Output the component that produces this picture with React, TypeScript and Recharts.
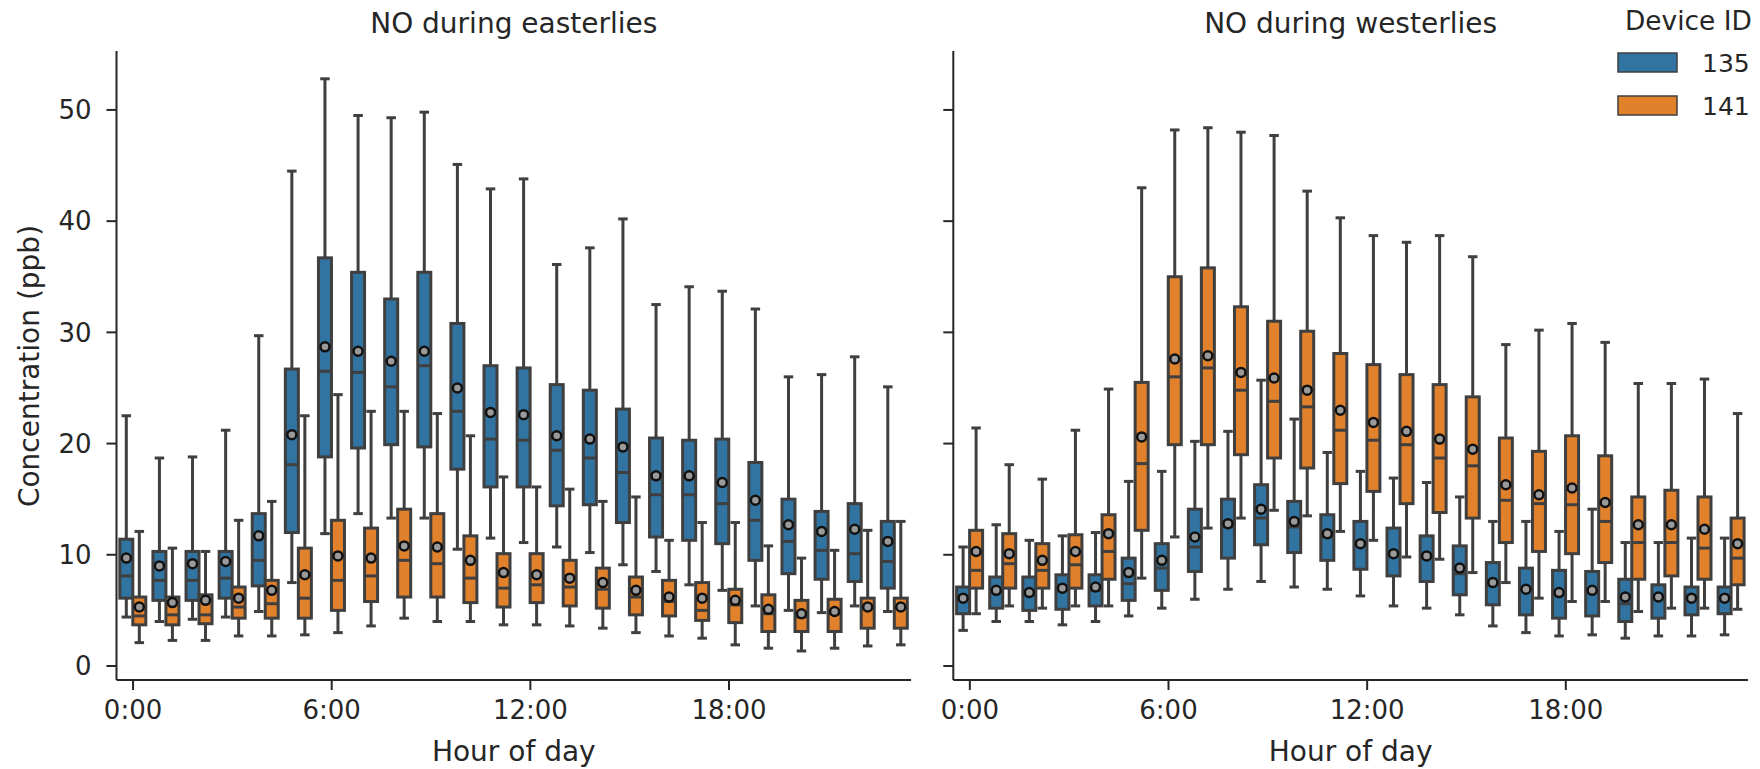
import { Bar, ComposedChart, XAxis, YAxis } from "recharts"

// hours of the day (category axis)
const HOURS = [0, 1, 2, 3, 4, 5, 6, 7, 8, 9, 10, 11, 12, 13, 14, 15, 16, 17, 18, 19, 20, 21, 22, 23]
const Y_TICKS = [0, 10, 20, 30, 40, 50]
const DEVICES = ["135", "141"]
const TITLES = ["NO during easterlies", "NO during westerlies"]

// easterlies, device 135
const E135_LOW = [4.4, 4.0, 4.2, 4.4, 4.9, 7.5, 11.9, 13.7, 13.3, 13.3, 10.5, 11.5, 11.1, 10.7, 10.2, 9.1, 8.5, 7.3, 6.8, 5.4, 5.0, 4.8, 5.4, 4.9]
const E135_Q1 = [6.1, 5.9, 5.9, 6.1, 7.2, 12.0, 18.8, 19.6, 19.9, 19.7, 17.7, 16.1, 16.1, 14.4, 14.5, 12.9, 11.6, 11.3, 11.0, 9.5, 8.3, 7.8, 7.6, 7.0]
const E135_MED = [8.1, 7.7, 7.7, 7.9, 9.5, 18.1, 26.5, 26.4, 25.1, 27.0, 22.9, 20.4, 20.3, 19.4, 18.7, 17.4, 15.4, 15.4, 14.6, 13.1, 11.2, 10.4, 10.1, 9.4]
const E135_Q3 = [11.4, 10.3, 10.3, 10.3, 13.7, 26.7, 36.7, 35.4, 33.0, 35.4, 30.8, 27.0, 26.8, 25.3, 24.8, 23.1, 20.5, 20.3, 20.4, 18.3, 15.0, 13.9, 14.6, 13.0]
const E135_HIGH = [22.5, 18.7, 18.8, 21.2, 29.7, 44.5, 52.8, 49.5, 49.3, 49.8, 45.1, 42.9, 43.8, 36.1, 37.6, 40.2, 32.5, 34.1, 33.7, 32.1, 26.0, 26.2, 27.8, 25.1]
const E135_MEAN = [9.7, 9.0, 9.2, 9.4, 11.7, 20.8, 28.7, 28.3, 27.4, 28.3, 25.0, 22.8, 22.6, 20.7, 20.4, 19.7, 17.1, 17.1, 16.5, 14.9, 12.7, 12.1, 12.3, 11.2]

// easterlies, device 141
const E141_LOW = [2.1, 2.3, 2.3, 2.7, 2.7, 2.8, 3.0, 3.6, 4.3, 4.0, 4.0, 3.7, 3.7, 3.6, 3.4, 3.0, 2.7, 2.5, 1.9, 1.6, 1.35, 1.6, 1.8, 1.9]
const E141_Q1 = [3.7, 3.7, 3.8, 4.3, 4.3, 4.3, 5.0, 5.8, 6.2, 6.2, 5.7, 5.3, 5.7, 5.4, 5.2, 4.6, 4.5, 4.1, 3.9, 3.1, 3.1, 3.1, 3.4, 3.4]
const E141_MED = [4.5, 4.6, 4.6, 5.3, 5.6, 6.1, 7.7, 8.1, 9.5, 9.2, 7.9, 7.0, 7.3, 7.1, 6.9, 6.2, 5.8, 5.0, 5.5, 4.7, 4.4, 4.7, 5.2, 5.2]
const E141_Q3 = [6.2, 6.2, 6.4, 7.1, 7.7, 10.6, 13.1, 12.4, 14.1, 13.7, 11.7, 10.1, 10.1, 9.5, 8.8, 8.0, 7.7, 7.5, 6.9, 6.4, 5.9, 6.0, 6.1, 6.1]
const E141_HIGH = [12.1, 10.6, 10.3, 13.1, 14.8, 22.5, 24.4, 22.9, 22.9, 22.7, 20.7, 17.0, 16.1, 15.9, 14.8, 15.2, 11.3, 12.9, 12.9, 10.8, 9.7, 10.4, 12.2, 13.0]
const E141_MEAN = [5.3, 5.7, 5.9, 6.1, 6.8, 8.2, 9.9, 9.7, 10.8, 10.7, 9.5, 8.4, 8.2, 7.9, 7.5, 6.8, 6.2, 6.1, 5.9, 5.1, 4.7, 4.9, 5.3, 5.3]

// westerlies, device 135
const W135_LOW = [3.2, 4.0, 4.0, 3.7, 4.0, 4.5, 5.2, 6.0, 6.9, 7.6, 7.1, 6.9, 6.3, 5.4, 5.2, 4.6, 3.6, 3.0, 2.7, 2.8, 2.5, 2.7, 2.7, 2.8]
const W135_Q1 = [4.7, 5.2, 5.0, 5.1, 5.4, 5.9, 6.8, 8.5, 9.7, 10.9, 10.2, 9.5, 8.7, 8.1, 7.6, 6.4, 5.5, 4.6, 4.3, 4.5, 4.0, 4.3, 4.6, 4.7]
const W135_MED = [5.9, 6.6, 6.5, 6.8, 6.8, 7.4, 8.8, 10.7, 12.5, 13.3, 12.5, 11.6, 10.9, 10.0, 9.8, 8.3, 7.4, 6.8, 6.5, 6.6, 5.6, 6.0, 6.0, 6.0]
const W135_Q3 = [7.1, 8.0, 8.0, 8.2, 8.2, 9.7, 11.0, 14.1, 15.0, 16.3, 14.8, 13.6, 13.0, 12.4, 11.7, 10.8, 9.3, 8.8, 8.6, 8.5, 7.8, 7.3, 7.1, 7.1]
const W135_HIGH = [10.7, 12.7, 11.3, 11.7, 12.0, 16.6, 17.5, 20.2, 21.1, 25.7, 22.2, 19.2, 17.5, 16.9, 16.5, 15.2, 13.0, 13.0, 12.1, 14.1, 11.1, 11.1, 11.5, 11.5]
const W135_MEAN = [6.1, 6.8, 6.6, 7.0, 7.1, 8.4, 9.5, 11.6, 12.8, 14.1, 13.0, 11.9, 11.0, 10.1, 9.9, 8.8, 7.5, 6.9, 6.6, 6.8, 6.2, 6.2, 6.1, 6.1]

// westerlies, device 141
const W141_LOW = [4.7, 5.4, 5.2, 5.4, 5.4, 7.9, 11.6, 12.4, 13.3, 14.0, 13.5, 12.1, 11.3, 9.8, 9.6, 8.4, 7.5, 6.1, 5.8, 5.8, 4.9, 5.2, 5.2, 5.1]
const W141_Q1 = [7.0, 7.0, 7.0, 7.0, 7.8, 12.2, 19.9, 19.9, 19.0, 18.7, 17.8, 16.4, 15.7, 14.6, 13.8, 13.3, 11.1, 10.3, 10.1, 9.3, 7.8, 8.1, 7.8, 7.3]
const W141_MED = [8.6, 9.2, 8.6, 9.1, 10.3, 18.2, 26.0, 26.8, 24.8, 23.8, 23.3, 21.2, 20.3, 19.9, 18.7, 18.0, 14.9, 14.6, 14.5, 13.0, 11.1, 11.1, 10.6, 9.7]
const W141_Q3 = [12.2, 11.9, 11.0, 11.8, 13.6, 25.5, 35.0, 35.8, 32.3, 31.0, 30.1, 28.1, 27.1, 26.2, 25.3, 24.2, 20.5, 19.3, 20.7, 18.9, 15.2, 15.8, 15.2, 13.3]
const W141_HIGH = [21.4, 18.1, 16.8, 21.2, 24.9, 43.0, 48.2, 48.4, 48.0, 47.7, 42.7, 40.3, 38.7, 38.1, 38.7, 36.8, 28.9, 30.2, 30.8, 29.1, 25.4, 25.4, 25.8, 22.7]
const W141_MEAN = [10.3, 10.1, 9.5, 10.3, 11.9, 20.6, 27.6, 27.9, 26.4, 25.9, 24.8, 23.0, 21.9, 21.1, 20.4, 19.5, 16.3, 15.4, 16.0, 14.7, 12.7, 12.7, 12.3, 11.0]

const COLORS = ["#3274a1", "#e1812c"]
const EDGE = "#3f3f3f"
const TEXT = "#262626"
const FONT = "DejaVu Sans"

type Stats = { low: number; q1: number; med: number; q3: number; high: number; mean: number }

const statsAt = (lo: number[], q1: number[], md: number[], q3: number[], hi: number[], mn: number[], i: number): Stats => ({
  low: lo[i],
  q1: q1[i],
  med: md[i],
  q3: q3[i],
  high: hi[i],
  mean: mn[i],
})

const eastData = HOURS.map((hour, i) => {
  const a = statsAt(E135_LOW, E135_Q1, E135_MED, E135_Q3, E135_HIGH, E135_MEAN, i)
  const b = statsAt(E141_LOW, E141_Q1, E141_MED, E141_Q3, E141_HIGH, E141_MEAN, i)
  return { hour, r135: [a.low, a.high], r141: [b.low, b.high], s135: a, s141: b }
})

const westData = HOURS.map((hour, i) => {
  const a = statsAt(W135_LOW, W135_Q1, W135_MED, W135_Q3, W135_HIGH, W135_MEAN, i)
  const b = statsAt(W141_LOW, W141_Q1, W141_MED, W141_Q3, W141_HIGH, W141_MEAN, i)
  return { hour, r135: [a.low, a.high], r141: [b.low, b.high], s135: a, s141: b }
})

// draws one box-and-whisker from the range bar the library laid out
const makeBox = (key: "s135" | "s141", fill: string) => (props: any) => {
  const { x, y, width, height, payload } = props
  const s: Stats = payload[key]
  const top = Math.min(y, y + height)
  const k = Math.abs(height) / (s.high - s.low)
  const py = (v: number) => top + (s.high - v) * k
  const cx = x + width / 2
  const cap = width / 4
  const line = { stroke: EDGE, strokeWidth: 3 }
  return (
    <g>
      <line x1={cx} x2={cx} y1={py(s.high)} y2={py(s.q3)} {...line} />
      <line x1={cx} x2={cx} y1={py(s.q1)} y2={py(s.low)} {...line} />
      <line x1={cx - cap} x2={cx + cap} y1={py(s.high)} y2={py(s.high)} {...line} strokeLinecap="square" />
      <line x1={cx - cap} x2={cx + cap} y1={py(s.low)} y2={py(s.low)} {...line} strokeLinecap="square" />
      <rect x={x} y={py(s.q3)} width={width} height={py(s.q1) - py(s.q3)} fill={fill} {...line} />
      <line x1={x} x2={x + width} y1={py(s.med)} y2={py(s.med)} {...line} />
      <circle cx={cx} cy={py(s.mean)} r={4.5} fill="#9a9a9a" stroke="#111111" strokeWidth={2.5} />
    </g>
  )
}

const tickStyle = { fill: TEXT, fontSize: 26, fontFamily: FONT }

function Panel({ data, showLabels, width, yAxisWidth, right }: any) {
  return (
    <ComposedChart
      width={width}
      height={769}
      data={data}
      margin={{ top: 51, right, bottom: 0, left: 0 }}
      barCategoryGap="10%"
      barGap={0}
    >
      <XAxis
        dataKey="hour"
        type="category"
        interval={5}
        height={89}
        tickSize={10}
        tickMargin={11}
        tick={tickStyle}
        tickFormatter={(h) => `${h}:00`}
        axisLine={{ stroke: TEXT, strokeWidth: 2 }}
        tickLine={{ stroke: TEXT, strokeWidth: 2 }}
      />
      <YAxis
        type="number"
        domain={[-1.26, 55.3]}
        allowDataOverflow
        ticks={Y_TICKS}
        width={yAxisWidth}
        tickSize={10}
        tickMargin={15}
        tick={showLabels ? tickStyle : () => <g />}
        axisLine={{ stroke: TEXT, strokeWidth: 2 }}
        tickLine={{ stroke: TEXT, strokeWidth: 2 }}
      />
      <Bar dataKey="r135" fill={COLORS[0]} shape={makeBox("s135", COLORS[0])} isAnimationActive={false} />
      <Bar dataKey="r141" fill={COLORS[1]} shape={makeBox("s141", COLORS[1])} isAnimationActive={false} />
    </ComposedChart>
  )
}

export default function App() {
  const centers = [513.8, 1350.6]
  return (
    <div style={{ position: "absolute", left: 0, top: 0, width: 1760, height: 769, background: "#fff", fontFamily: FONT }}>
      <div style={{ position: "absolute", left: 0, top: 0 }}>
        <Panel data={eastData} showLabels width={930} yAxisWidth={116.5} right={18.9} />
      </div>
      <div style={{ position: "absolute", left: 940, top: 0 }}>
        <Panel data={westData} showLabels={false} width={820} yAxisWidth={13.3} right={12.1} />
      </div>
      <svg width={1760} height={769} style={{ position: "absolute", left: 0, top: 0, pointerEvents: "none" }}>
        {TITLES.map((t, i) => (
          <text key={t} x={centers[i]} y={33} textAnchor="middle" fontSize={28} fontFamily={FONT} fill={TEXT}>
            {t}
          </text>
        ))}
        {centers.map((c) => (
          <text key={c} x={c} y={760.5} textAnchor="middle" fontSize={28} fontFamily={FONT} fill={TEXT}>
            Hour of day
          </text>
        ))}
        <text transform="translate(38.5, 366) rotate(-90)" textAnchor="middle" fontSize={28} fontFamily={FONT} fill={TEXT}>
          Concentration (ppb)
        </text>
        <text x={1625} y={30} fontSize={26.4} fontFamily={FONT} fill={TEXT}>
          Device ID
        </text>
        {DEVICES.map((d, i) => (
          <g key={d}>
            <rect x={1618} y={53 + i * 43} width={59} height={19} fill={COLORS[i]} stroke={EDGE} strokeWidth={1.5} />
            <text x={1702} y={72 + i * 43} fontSize={25} fontFamily={FONT} fill={TEXT}>
              {d}
            </text>
          </g>
        ))}
      </svg>
    </div>
  )
}
